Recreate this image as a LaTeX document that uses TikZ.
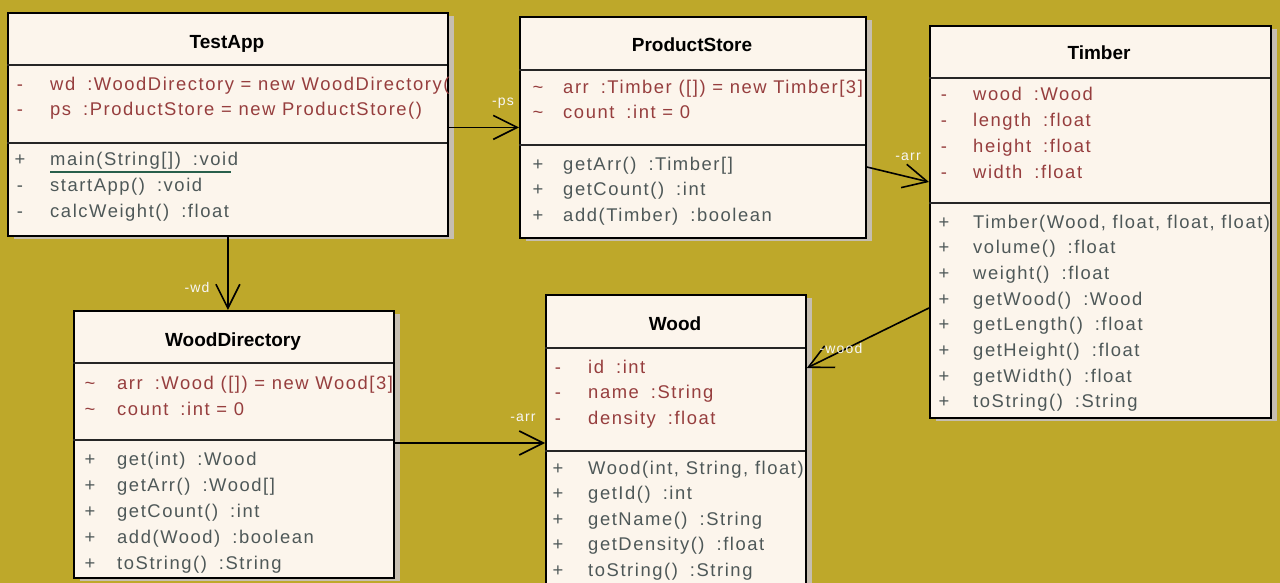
\documentclass[tikz,border=0pt]{standalone}
\usepackage{fontspec}
\setmainfont{Liberation Sans}
\newfontfamily\umlfont[LetterSpace=8.5]{Liberation Sans}
\usetikzlibrary{arrows.meta,calc,shadows}

\definecolor{bgolive}{RGB}{190,168,42}
\definecolor{boxfill}{RGB}{252,245,236}
\definecolor{attrcol}{RGB}{150,62,62}
\definecolor{opcol}{RGB}{78,88,88}
\definecolor{shadowcol}{RGB}{198,190,176}
\definecolor{linkgreen}{RGB}{40,95,75}

\tikzset{
  classbox/.style={draw=black, line width=1.8pt, fill=boxfill, inner sep=0pt,
    anchor=north west,
    drop shadow={shadow xshift=6pt, shadow yshift=-3pt, fill=shadowcol, opacity=1}},
  divider/.style={draw=black!85, line width=1.8pt},
  titletext/.style={font=\fontsize{19}{22}\selectfont\bfseries, anchor=base, inner sep=0pt},
  attrtext/.style={font=\umlfont\fontsize{18.4}{22}\selectfont, text=attrcol, anchor=base west, inner sep=0pt},
  optext/.style={font=\umlfont\fontsize{18.4}{22}\selectfont, text=opcol, anchor=base west, inner sep=0pt},
  assoc/.style={draw=black, line width=1.6pt,
    -{Straight Barb[length=24pt, width=24pt]}},
  rolelabel/.style={font=\umlfont\fontsize{14}{16}\selectfont, text=white!94!gray, inner sep=1pt},
}

% rows of a compartment: prefix, marker x, text x, first row y, row step, style, {marker/text} list
\newcommand{\umlrows}[7]{%
  \foreach \mk/\tx [count=\i] in {#7} {
    \node[#6, anchor=base] (#1m\i) at (#2, {#4+(\i-1)*#5+6}) {\mk};
    \node[#6] (#1t\i) at (#3, {#4+(\i-1)*#5+6}) {\tx};
  }}
\newcommand{\cgap}{\hspace{12pt}}
\newcommand{\tld}{\textasciitilde}

\begin{document}
\begin{tikzpicture}[x=1pt, y=-1pt]
  \useasboundingbox (0,0) rectangle (1280,583);
  \fill[bgolive] (0,0) rectangle (1280,583);

  % class boxes
  \node[classbox, minimum width=440pt, minimum height=223pt] (testapp) at (7,12) {};
  \node[classbox, minimum width=346pt, minimum height=221pt] (productstore) at (519,16) {};
  \node[classbox, minimum width=341pt, minimum height=392pt] (timber) at (929,25) {};
  \node[classbox, minimum width=320pt, minimum height=267pt] (wooddir) at (73,310) {};
  \node[classbox, minimum width=260pt, minimum height=306pt] (wood) at (545,294) {};

  % compartment dividers
  \draw[divider] (7,65) -- (447,65) (7,143) -- (447,143);
  \draw[divider] (519,70) -- (865,70) (519,145) -- (865,145);
  \draw[divider] (929,78) -- (1270,78) (929,203) -- (1270,203);
  \draw[divider] (73,363) -- (393,363) (73,440) -- (393,440);
  \draw[divider] (545,348) -- (805,348) (545,451) -- (805,451);

  % TestApp
  \begin{scope}
    \clip (testapp.north west) rectangle (testapp.south east);
    \node[titletext] (ta-title) at (227,49) {TestApp};
    \umlrows{ta-a}{20}{50}{85}{25}{attrtext}{
      {-/wd\cgap:WoodDirectory = new WoodDirectory()},
      {-/ps\cgap:ProductStore = new ProductStore()}}
    \umlrows{ta-o}{20}{50}{160}{25.5}{optext}{
      {+/main(String[])\cgap:void},
      {-/startApp()\cgap:void},
      {-/calcWeight()\cgap:float}}
  \end{scope}
  \draw[linkgreen, line width=1.5pt]
    ($(ta-ot1.base west)+(0,6)$) -- ($(ta-ot1.base east)+(-7,6)$);

  % ProductStore
  \begin{scope}
    \clip (productstore.north west) rectangle (productstore.south east);
    \node[titletext] (ps-title) at (692,52) {ProductStore};
    \umlrows{ps-a}{538}{563}{88}{25}{attrtext}{
      {\tld/arr\cgap:Timber ([]) = new Timber[3]},
      {\tld/count\cgap:int = 0}}
    \umlrows{ps-o}{538}{563}{165}{25}{optext}{
      {+/getArr()\cgap:Timber[]},
      {+/getCount()\cgap:int},
      {+/add(Timber)\cgap:boolean}}
  \end{scope}

  % Timber
  \begin{scope}
    \clip (timber.north west) rectangle (timber.south east);
    \node[titletext] (ti-title) at (1099,60) {Timber};
    \umlrows{ti-a}{944}{973}{95}{25.7}{attrtext}{
      {-/wood\cgap:Wood},
      {-/length\cgap:float},
      {-/height\cgap:float},
      {-/width\cgap:float}}
    \umlrows{ti-o}{944}{973}{222}{25.7}{optext}{
      {+/Timber(Wood, float, float, float)},
      {+/volume()\cgap:float},
      {+/weight()\cgap:float},
      {+/getWood()\cgap:Wood},
      {+/getLength()\cgap:float},
      {+/getHeight()\cgap:float},
      {+/getWidth()\cgap:float},
      {+/toString()\cgap:String}}
  \end{scope}

  % WoodDirectory
  \begin{scope}
    \clip (wooddir.north west) rectangle (wooddir.south east);
    \node[titletext] (wd-title) at (233,346) {WoodDirectory};
    \umlrows{wd-a}{90}{117}{383}{26}{attrtext}{
      {\tld/arr\cgap:Wood ([]) = new Wood[3]},
      {\tld/count\cgap:int = 0}}
    \umlrows{wd-o}{90}{117}{459}{26}{optext}{
      {+/get(int)\cgap:Wood},
      {+/getArr()\cgap:Wood[]},
      {+/getCount()\cgap:int},
      {+/add(Wood)\cgap:boolean},
      {+/toString()\cgap:String}}
  \end{scope}

  % Wood
  \begin{scope}
    \clip (wood.north west) rectangle (wood.south east);
    \node[titletext] (wo-title) at (675,330) {Wood};
    \umlrows{wo-a}{558}{588}{367}{25.5}{attrtext}{
      {-/id\cgap:int},
      {-/name\cgap:String},
      {-/density\cgap:float}}
    \umlrows{wo-o}{558}{588}{468}{25.5}{optext}{
      {+/{Wood(int, String, float)}},
      {+/getId()\cgap:int},
      {+/getName()\cgap:String},
      {+/getDensity()\cgap:float},
      {+/toString()\cgap:String}}
  \end{scope}

  % associations
  \draw[assoc] (productstore.west -| testapp.east) -- (productstore.west);
  \draw[assoc] (testapp.south) -- (testapp.south |- wooddir.north);
  \draw[assoc] ($(productstore.north east)+(0,151)$) -- ($(timber.north west)+(0,157)$);
  \draw[assoc] ($(timber.north west)+(0,283)$) -- ($(wood.north east)+(0,74)$);
  \draw[assoc] ($(wooddir.north east)+(0,133)$) -- ($(wood.north west)+(0,149)$);

  % role names
  \node[rolelabel] (r-ps) at (503,103) {-ps};
  \node[rolelabel] (r-wd) at (197,287) {-wd};
  \node[rolelabel] (r-arr1) at (908,157) {-arr};
  \node[rolelabel] (r-wood) at (841,348) {-wood};
  \node[rolelabel] (r-arr2) at (523,418) {-arr};
\end{tikzpicture}
\end{document}
